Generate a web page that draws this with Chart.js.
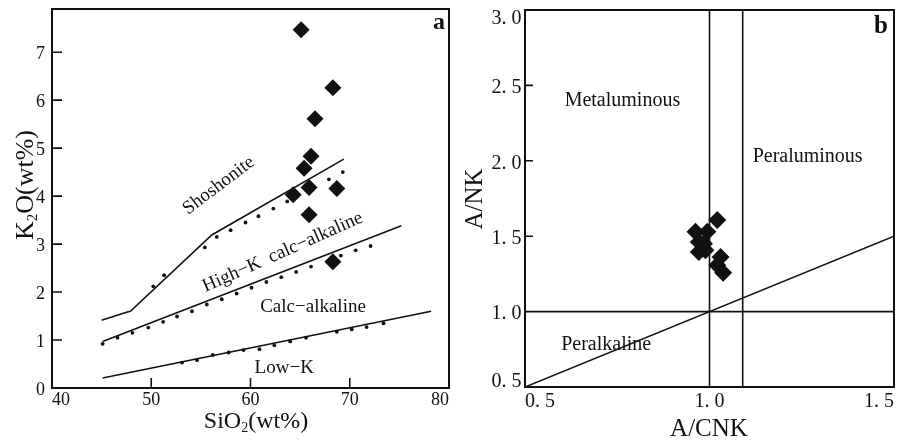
<!DOCTYPE html>
<html><head><meta charset="utf-8">
<script src="https://cdn.jsdelivr.net/npm/chart.js@4.4.1/dist/chart.umd.min.js"></script>
<style>
html,body{margin:0;padding:0;background:#fff;}
#wrap{position:relative;width:900px;height:442px;overflow:hidden;background:#fff;}
canvas{position:absolute;top:0;}
#ca{left:0px} #cb{left:450px}
</style></head><body>
<div id="wrap"><canvas id="ca" width="450" height="442"></canvas><canvas id="cb" width="450" height="442"></canvas></div>
<script>
// ---------- Panel a: K2O vs SiO2 ----------
const sampleSiO2 = [65.1, 68.3, 66.5, 66.1, 65.4, 65.9, 64.3, 68.7, 65.9, 68.3];
const sampleK2O  = [7.47, 6.26, 5.61, 4.83, 4.58, 4.18, 4.03, 4.16, 3.61, 2.63];

const shoshoLineX = [45.0, 47.5, 47.9, 56.1, 69.4];
const shoshoLineY = [1.41, 1.58, 1.60, 3.19, 4.77];
const highKLineX  = [45.1, 75.2];
const highKLineY  = [0.97, 3.38];
const lowKLineX   = [45.1, 78.2];
const lowKLineY   = [0.21, 1.60];

const dotsUpperX = [50.2, 51.3, 55.4, 56.6, 58.0, 59.5, 60.8, 62.3, 63.7, 67.9, 69.3];
const dotsUpperY = [2.12, 2.35, 2.93, 3.15, 3.29, 3.45, 3.58, 3.74, 3.89, 4.35, 4.50];
const dotsMidX = [45.1, 46.6, 48.1, 49.7, 51.2, 52.6, 54.1, 55.6, 57.1, 58.6, 60.1, 61.6, 63.1, 64.6, 66.1, 69.1, 70.6, 72.1];
const dotsMidY = [0.92, 1.05, 1.15, 1.26, 1.38, 1.49, 1.60, 1.74, 1.85, 1.97, 2.09, 2.21, 2.31, 2.42, 2.53, 2.76, 2.87, 2.96];
const dotsLowX = [53.1, 54.6, 56.2, 57.8, 59.3, 60.9, 62.4, 64.0, 65.6, 68.7, 70.2, 71.7, 73.4];
const dotsLowY = [0.53, 0.58, 0.69, 0.74, 0.79, 0.81, 0.89, 0.97, 1.05, 1.17, 1.22, 1.27, 1.35];

const xTicksA = [40, 50, 60, 70, 80];
const yTicksA = [0, 1, 2, 3, 4, 5, 6, 7];

// ---------- Panel b: A/NK vs A/CNK ----------
const sampleACNK = [1.021, 0.962, 0.994, 0.971, 0.971, 0.989, 1.030, 1.021, 1.037, 0.985];
const sampleANK  = [1.607, 1.529, 1.529, 1.462, 1.395, 1.407, 1.362, 1.307, 1.258, 1.450];

const metaPeraX = [1.0, 1.0];   const metaPeraY = [0.5, 3.0];
const peraX     = [1.09, 1.09]; const peraY     = [0.5, 3.0];
const alkX      = [0.5, 1.5];   const alkY      = [1.0, 1.0];
const diagX     = [0.5, 1.5];   const diagY     = [0.5, 1.5];

const xTicksB = [0.5, 1.0, 1.5];
const xTickLabelsB = ['0. 5', '1. 0', '1. 5'];
const yTicksB = [0.5, 1.0, 1.5, 2.0, 2.5, 3.0];
const yTickLabelsB = ['0. 5', '1. 0', '1. 5', '2. 0', '2. 5', '3. 0'];

const INK = '#111';
const SERIF = '"Liberation Serif", "Times New Roman", serif';
const pts = (xs, ys) => xs.map((x, i) => ({x, y: ys[i]}));

function lineDS(xs, ys) {
  return {type: 'line', data: pts(xs, ys), borderColor: INK, borderWidth: 1.6,
    pointRadius: 0, fill: false, tension: 0, order: 3};
}
function dotDS(xs, ys) {
  return {type: 'scatter', data: pts(xs, ys), backgroundColor: INK, borderWidth: 0,
    pointRadius: 1.9, pointStyle: 'circle', order: 2};
}
function diamondDS(xs, ys, r) {
  return {type: 'scatter', data: pts(xs, ys), backgroundColor: INK, borderColor: INK,
    borderWidth: 0, pointRadius: r, pointStyle: 'rectRot', order: 1};
}

// rich text (for subscripts), centred on (0,0) after transform
function drawRich(ctx, parts) {
  let w = 0;
  parts.forEach(p => { ctx.font = p.s + 'px ' + SERIF; p.w = ctx.measureText(p.t).width; w += p.w; });
  let x = -w / 2;
  ctx.textAlign = 'left'; ctx.textBaseline = 'alphabetic';
  parts.forEach(p => { ctx.font = p.s + 'px ' + SERIF; ctx.fillText(p.t, x, p.dy || 0); x += p.w; });
}

// decoration plugin: frame, inward ticks, text labels, axis titles
const decor = {
  id: 'decor',
  afterDraw(chart, args, o) {
    const ctx = chart.ctx, a = chart.chartArea;
    const xs = chart.scales.x, ys = chart.scales.y;
    ctx.save();
    ctx.strokeStyle = INK; ctx.lineWidth = 2;
    ctx.strokeRect(a.left, a.top, a.right - a.left, a.bottom - a.top);
    ctx.lineWidth = 1.6;
    ctx.beginPath();
    (o.xTickMarks || []).forEach(v => { const p = xs.getPixelForValue(v); ctx.moveTo(p, a.bottom); ctx.lineTo(p, a.bottom - o.tickLen); });
    (o.yTickMarks || []).forEach(v => { const p = ys.getPixelForValue(v); ctx.moveTo(a.left, p); ctx.lineTo(a.left + o.tickLen, p); });
    ctx.stroke();
    ctx.fillStyle = INK;
    (o.texts || []).forEach(t => {
      ctx.save();
      ctx.font = (t.weight || 'normal') + ' ' + t.size + 'px ' + SERIF;
      ctx.textAlign = t.align || 'center';
      ctx.textBaseline = t.baseline || 'middle';
      const px = t.px !== undefined ? t.px : xs.getPixelForValue(t.x);
      const py = t.py !== undefined ? t.py : ys.getPixelForValue(t.y);
      ctx.translate(px, py);
      if (t.rot) ctx.rotate(t.rot * Math.PI / 180);
      ctx.fillText(t.text, 0, 0);
      ctx.restore();
    });
    (o.titles || []).forEach(t => {
      ctx.save();
      ctx.translate(t.px, t.py);
      if (t.rot) ctx.rotate(t.rot * Math.PI / 180);
      drawRich(ctx, t.parts);
      ctx.restore();
    });
    if (o.yLabels) {
      ctx.font = o.yLabels.size + 'px ' + SERIF;
      ctx.textAlign = 'right';
      ctx.textBaseline = 'middle';
      const n = o.yLabels.values.length;
      o.yLabels.values.forEach((v, i) => {
        const p = ys.getPixelForValue(v);
        const dy = i === 0 ? -5.5 : (i === n - 1 ? 9 : 2.5);
        ctx.fillText(o.yLabels.labels[i], a.left - 3.5, p + dy);
      });
    }
    ctx.restore();
  }
};

function fixTicks(list) {
  return function (scale) { scale.ticks = list.map(v => ({value: v})); };
}
function fixSize(prop, size) {
  return function (s) {
    s[prop] = size;
    s.paddingLeft = 0; s.paddingRight = 0; s.paddingTop = 0; s.paddingBottom = 0;
  };
}

// ---------- Chart a ----------
new Chart(document.getElementById('ca'), {
  data: {datasets: [
    diamondDS(sampleSiO2, sampleK2O, 8.5),
    dotDS(dotsUpperX, dotsUpperY), dotDS(dotsMidX, dotsMidY), dotDS(dotsLowX, dotsLowY),
    lineDS(shoshoLineX, shoshoLineY), lineDS(highKLineX, highKLineY), lineDS(lowKLineX, lowKLineY)
  ]},
  plugins: [decor],
  options: {
    responsive: false, animation: false, devicePixelRatio: 1,
    layout: {autoPadding: false, padding: {top: 9, right: 1, left: 0, bottom: 0}},
    plugins: {legend: {display: false}, tooltip: {enabled: false},
      decor: {
        tickLen: 10,
        xTickMarks: [50, 60, 70],
        yTickMarks: [1, 2, 3, 4, 5, 6, 7],
        texts: [
          {text: 'Shoshonite', x: 56.8, y: 4.22, rot: -37, size: 19},
          {text: 'High\u2212K  calc\u2212alkaline', x: 63.25, y: 2.83, rot: -24, size: 19},
          {text: 'Calc\u2212alkaline', x: 66.3, y: 1.68, size: 19},
          {text: 'Low\u2212K', x: 63.4, y: 0.41, size: 19},
          {text: 'a', px: 439, py: 23, size: 24, weight: 'bold'}
        ],
        titles: [
          {px: 256, py: 428, parts: [{t: 'SiO', s: 24}, {t: '2', s: 14, dy: 4}, {t: '(wt%)', s: 24}]},
          {px: 33, py: 185, rot: -90, parts: [{t: 'K', s: 26}, {t: '2', s: 15, dy: 4}, {t: 'O(wt%)', s: 26}]}
        ]
      }
    },
    scales: {
      x: {type: 'linear', min: 40, max: 80,
        afterBuildTicks: fixTicks(xTicksA),
        afterFit: fixSize('height', 54),
        grid: {display: false, drawTicks: false}, border: {display: false},
        ticks: {color: INK, font: {family: SERIF, size: 18}, padding: 1, align: 'inner', maxRotation: 0}
      },
      y: {type: 'linear', min: 0, max: 7.9,
        afterBuildTicks: fixTicks(yTicksA),
        afterFit: fixSize('width', 52),
        grid: {display: false, drawTicks: false}, border: {display: false},
        ticks: {color: INK, font: {family: SERIF, size: 18}, padding: 7, labelOffset: 2}
      }
    }
  }
});

// ---------- Chart b ----------
new Chart(document.getElementById('cb'), {
  data: {datasets: [
    diamondDS(sampleACNK, sampleANK, 9),
    lineDS(metaPeraX, metaPeraY), lineDS(peraX, peraY), lineDS(alkX, alkY), lineDS(diagX, diagY)
  ]},
  plugins: [decor],
  options: {
    responsive: false, animation: false, devicePixelRatio: 1,
    layout: {autoPadding: false, padding: {top: 10, right: 6, left: 0, bottom: 0}},
    plugins: {legend: {display: false}, tooltip: {enabled: false},
      decor: {
        tickLen: 8,
        xTickMarks: [],
        yTickMarks: [1.5, 2.0, 2.5],
        yLabels: {values: yTicksB, labels: yTickLabelsB, size: 20},
        texts: [
          {text: 'Metaluminous', x: 0.764, y: 2.395, size: 20},
          {text: 'Peraluminous', x: 1.266, y: 2.03, size: 20},
          {text: 'Peralkaline', x: 0.72, y: 0.78, size: 20},
          {text: 'b', px: 431, py: 27, size: 25, weight: 'bold'}
        ],
        titles: [
          {px: 259, py: 436, parts: [{t: 'A/CNK', s: 25}]},
          {px: 32, py: 199, rot: -90, parts: [{t: 'A/NK', s: 25}]}
        ]
      }
    },
    scales: {
      x: {type: 'linear', min: 0.5, max: 1.5,
        afterBuildTicks: fixTicks(xTicksB),
        afterFit: fixSize('height', 55),
        grid: {display: false, drawTicks: false}, border: {display: false},
        ticks: {color: INK, font: {family: SERIF, size: 20}, padding: 2.5, align: 'inner', maxRotation: 0,
          callback: (v) => xTickLabelsB[xTicksB.indexOf(v)]}
      },
      y: {type: 'linear', min: 0.5, max: 3.0,
        afterBuildTicks: fixTicks(yTicksB),
        afterFit: fixSize('width', 75),
        grid: {display: false, drawTicks: false}, border: {display: false},
        ticks: {display: false}
      }
    }
  }
});
</script>
</body></html>
